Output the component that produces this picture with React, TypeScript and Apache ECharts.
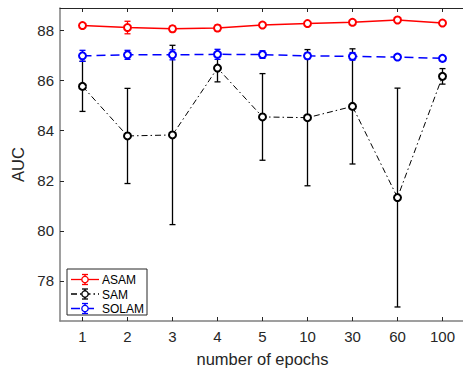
import React, { useEffect, useRef } from "react";
import * as echarts from "echarts";

const categories = ["1", "2", "3", "4", "5", "10", "30", "60", "100"];

const asamMean = [88.2, 88.12, 88.07, 88.1, 88.22, 88.28, 88.33, 88.42, 88.3];
const asamErr = [0.05, 0.25, 0.12, 0.12, 0.07, 0.05, 0.05, 0.06, 0.05];

const samMean = [85.77, 83.79, 83.83, 86.5, 84.55, 84.52, 84.97, 81.33, 86.17];
const samErr = [1.0, 1.9, 3.58, 0.55, 1.73, 2.72, 2.3, 4.37, 0.31];

const solamMean = [86.99, 87.03, 87.03, 87.05, 87.04, 86.99, 86.97, 86.94, 86.89];
const solamErr = [0.22, 0.18, 0.2, 0.2, 0.15, 0.12, 0.15, 0.1, 0.1];

const yMin = 76.4;
const yMax = 88.9;

const FONT = "Liberation Sans, Arial, Helvetica, sans-serif";

function errorSeries(name: string, mean: number[], err: number[], color: string, z: number) {
  const data = mean.map((m, i) => [i, m - err[i], m + err[i]]);
  return {
    type: "custom",
    name: name + "-err",
    z,
    silent: true,
    data,
    encode: { x: 0, y: [1, 2] },
    renderItem: (params: any, api: any) => {
      const x = api.value(0);
      const lo = api.coord([x, api.value(1)]);
      const hi = api.coord([x, api.value(2)]);
      const cap = 3;
      const style = { stroke: color, lineWidth: 1.3 };
      return {
        type: "group",
        children: [
          { type: "line", shape: { x1: lo[0], y1: lo[1], x2: hi[0], y2: hi[1] }, style },
          { type: "line", shape: { x1: lo[0] - cap, y1: lo[1], x2: lo[0] + cap, y2: lo[1] }, style },
          { type: "line", shape: { x1: hi[0] - cap, y1: hi[1], x2: hi[0] + cap, y2: hi[1] }, style },
        ],
      };
    },
  };
}

function lineSeries(name: string, mean: number[], color: string, type: any, width: number, z: number) {
  return {
    type: "line",
    name,
    z,
    data: mean,
    symbol: "emptyCircle",
    symbolSize: 7,
    showSymbol: true,
    lineStyle: { color, width, type },
    itemStyle: { color, borderColor: color, borderWidth: 1.3 },
  };
}

function legendItem(label: string, y: number, color: string, dash: any) {
  const x1 = 71;
  const x2 = 99;
  const cx = 85;
  const ls = { stroke: color, lineWidth: 1.3 };
  return [
    { type: "line", shape: { x1, y1: y, x2, y2: y }, style: { stroke: color, lineWidth: 1.3, lineDash: dash } },
    { type: "line", shape: { x1: cx, y1: y - 5, x2: cx, y2: y + 5 }, style: ls },
    { type: "line", shape: { x1: cx - 3, y1: y - 5, x2: cx + 3, y2: y - 5 }, style: ls },
    { type: "line", shape: { x1: cx - 3, y1: y + 5, x2: cx + 3, y2: y + 5 }, style: ls },
    { type: "circle", shape: { cx, cy: y, r: 3.2 }, style: { stroke: color, fill: "#fff", lineWidth: 1.3 } },
    {
      type: "text",
      x: 102,
      y: y + 0.5,
      style: { text: label, fill: "#000", font: `12px ${FONT}`, verticalAlign: "middle", align: "left" },
    },
  ];
}

export default function App() {
  const ref = useRef<HTMLDivElement>(null);
  useEffect(() => {
    document.body.style.margin = "0";
    document.body.style.overflow = "hidden";
    const chart = echarts.init(ref.current!, null, { renderer: "svg" });
    const axisGray = "#808080";
    const dark = "#262626";
    chart.setOption({
      animation: false,
      backgroundColor: "#fff",
      textStyle: { fontFamily: FONT },
      grid: { left: 60, top: 8, width: 405, height: 316, show: false },
      xAxis: [
        {
          type: "category",
          data: categories,
          boundaryGap: true,
          position: "bottom",
          name: "number of epochs",
          nameLocation: "middle",
          nameGap: 29,
          nameTextStyle: { fontSize: 16.5, color: dark, fontFamily: FONT },
          axisLine: { show: true, lineStyle: { color: axisGray, width: 1.5 } },
          axisTick: { show: true, inside: true, alignWithLabel: true, length: 4, lineStyle: { color: dark } },
          axisLabel: { fontSize: 15, color: dark, margin: 8, fontFamily: FONT },
          splitLine: { show: false },
        },
        {
          type: "category",
          data: categories,
          boundaryGap: true,
          position: "top",
          axisLine: { show: true, lineStyle: { color: dark, width: 1 } },
          axisTick: { show: true, inside: true, alignWithLabel: true, length: 4, lineStyle: { color: dark } },
          axisLabel: { show: false },
          splitLine: { show: false },
        },
      ],
      yAxis: {
        type: "value",
        min: yMin,
        max: yMax,
        splitNumber: 6,
        name: "AUC",
        nameLocation: "middle",
        nameGap: 28,
        nameTextStyle: { fontSize: 16.5, color: dark, fontFamily: FONT },
        axisLine: { show: true, lineStyle: { color: axisGray, width: 1.5 } },
        axisTick: { show: true, inside: true, length: 4, lineStyle: { color: dark } },
        axisLabel: { fontSize: 15, color: dark, margin: 6, showMinLabel: false, showMaxLabel: false, fontFamily: FONT },
        splitLine: { show: false },
      },
      series: [
        errorSeries("ASAM", asamMean, asamErr, "#ff0000", 2),
        lineSeries("ASAM", asamMean, "#ff0000", "solid", 1.5, 3),
        errorSeries("SAM", samMean, samErr, "#000000", 4),
        lineSeries("SAM", samMean, "#000000", [6, 3, 1.5, 3], 1, 5),
        errorSeries("SOLAM", solamMean, solamErr, "#0000ff", 6),
        lineSeries("SOLAM", solamMean, "#0000ff", [9, 5], 1.5, 7),
      ],
      graphic: [
        {
          type: "group",
          z: 100,
          children: [
            {
              type: "rect",
              shape: { x: 67, y: 269, width: 80, height: 46 },
              style: { fill: "#fff", stroke: dark, lineWidth: 1 },
            },
            ...legendItem("ASAM", 279.5, "#ff0000", null),
            ...legendItem("SAM", 294, "#000000", [6, 3, 1.5, 3]),
            ...legendItem("SOLAM", 308.5, "#0000ff", [9, 5]),
          ],
        },
      ],
    });
    return () => chart.dispose();
  }, []);
  return (
    <div style={{ width: 463, height: 372, overflow: "hidden" }}>
      <div ref={ref} style={{ width: 472, height: 372 }} />
    </div>
  );
}
